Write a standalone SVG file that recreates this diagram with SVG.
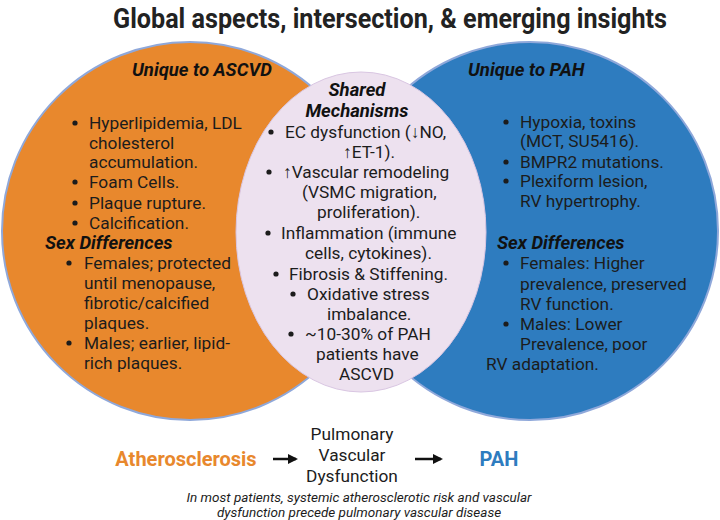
<svg xmlns="http://www.w3.org/2000/svg" width="720" height="520" viewBox="0 0 720 520">
<defs>
<style>
.t{font-family:Roboto,"Liberation Sans",sans-serif;font-size:17.3px;fill:#1c1c1c}
.h{font-family:Roboto,"Liberation Sans",sans-serif;font-size:18.5px;font-weight:bold;font-style:italic;fill:#111}
.title{font-family:Roboto,"Liberation Sans",sans-serif;font-size:27px;font-weight:bold;fill:#222}
.note{font-family:Roboto,"Liberation Sans",sans-serif;font-size:13.5px;font-style:italic;fill:#1c1c1c}
.big{font-family:Roboto,"Liberation Sans",sans-serif;font-size:20px;font-weight:bold}
.b{fill:#1c1c1c}
.circ{stroke:#8fa8da;stroke-width:2}
.arrow{stroke:#111;stroke-width:2.5;fill:none}
</style>
<marker id="ah" viewBox="0 0 10 10" refX="8" refY="5" markerWidth="4" markerHeight="4" orient="auto">
<path d="M0,0 L10,5 L0,10 z" fill="#111"/>
</marker>
</defs>
<rect width="720" height="520" fill="#fff"/>
<text class="title" x="390" y="28" text-anchor="middle" textLength="554" lengthAdjust="spacingAndGlyphs">Global aspects, intersection, &amp; emerging  insights</text>

<g id="ascvd">
<ellipse class="circ" cx="190" cy="231" rx="188" ry="189" fill="#e8882d"/>
<text class="h" x="132" y="76">Unique to ASCVD</text>
<circle class="b" cx="75" cy="123" r="2.6"/><text class="t" x="89" y="129">Hyperlipidemia, LDL</text>
<text class="t" x="89" y="149">cholesterol</text>
<text class="t" x="89" y="168">accumulation.</text>
<circle class="b" cx="75" cy="182" r="2.6"/><text class="t" x="89" y="188">Foam Cells.</text>
<circle class="b" cx="75" cy="203" r="2.6"/><text class="t" x="89" y="209">Plaque rupture.</text>
<circle class="b" cx="75" cy="223" r="2.6"/><text class="t" x="89" y="229">Calcification.</text>
<text class="h" x="45" y="249">Sex Differences</text>
<circle class="b" cx="69" cy="263" r="2.6"/><text class="t" x="84" y="269">Females; protected</text>
<text class="t" x="84" y="289">until menopause,</text>
<text class="t" x="84" y="309">fibrotic/calcified</text>
<text class="t" x="84" y="329">plaques.</text>
<circle class="b" cx="69" cy="343" r="2.6"/><text class="t" x="84" y="349">Males; earlier, lipid-</text>
<text class="t" x="84" y="369">rich plaques.</text>
</g>

<g id="pah">
<ellipse class="circ" cx="530" cy="231" rx="188" ry="189" fill="#2e7cbf"/>
<text class="h" x="468" y="76">Unique to PAH</text>
<circle class="b" cx="506" cy="122" r="2.6"/><text class="t" x="520" y="128">Hypoxia, toxins</text>
<text class="t" x="520" y="147">(MCT, SU5416).</text>
<circle class="b" cx="506" cy="162" r="2.6"/><text class="t" x="520" y="168">BMPR2 mutations.</text>
<circle class="b" cx="506" cy="181" r="2.6"/><text class="t" x="520" y="187">Plexiform lesion,</text>
<text class="t" x="520" y="207">RV hypertrophy.</text>
<text class="h" x="497" y="249">Sex Differences</text>
<circle class="b" cx="506" cy="263" r="2.6"/><text class="t" x="520" y="269">Females: Higher</text>
<text class="t" x="520" y="290">prevalence, preserved</text>
<text class="t" x="520" y="310">RV function.</text>
<circle class="b" cx="506" cy="324" r="2.6"/><text class="t" x="520" y="330">Males: Lower</text>
<text class="t" x="520" y="350">Prevalence, poor</text>
<text class="t" x="486" y="370">RV adaptation.</text>
</g>

<g id="shared">
<ellipse cx="361" cy="232" rx="125" ry="160" fill="#ede1ef" stroke="#d9c6e2" stroke-width="1"/>
<text class="h" x="357" y="96" text-anchor="middle">Shared</text>
<text class="h" x="357" y="117" text-anchor="middle">Mechanisms</text>
<circle class="b" cx="271" cy="132" r="2.6"/><text class="t" x="285" y="138">EC dysfunction (↓NO,</text>
<text class="t" x="343" y="158">↑ET-1).</text>
<circle class="b" cx="269" cy="172" r="2.6"/><text class="t" x="283" y="178">↑Vascular remodeling</text>
<text class="t" x="302" y="198">(VSMC migration,</text>
<text class="t" x="317" y="218">proliferation).</text>
<circle class="b" cx="268" cy="233" r="2.6"/><text class="t" x="281" y="239">Inflammation (immune</text>
<text class="t" x="305" y="259">cells, cytokines).</text>
<circle class="b" cx="276" cy="274" r="2.6"/><text class="t" x="289" y="280">Fibrosis &amp; Stiffening.</text>
<circle class="b" cx="293" cy="294" r="2.6"/><text class="t" x="307" y="300">Oxidative stress</text>
<text class="t" x="327" y="320">imbalance.</text>
<circle class="b" cx="291" cy="334" r="2.6"/><text class="t" x="305" y="340">~10-30% of PAH</text>
<text class="t" x="316" y="360">patients have</text>
<text class="t" x="339" y="380">ASCVD</text>
</g>

<g id="flow-atherosclerosis">
<text class="big" x="186" y="466" text-anchor="middle" fill="#e8882d">Atherosclerosis</text>
</g>
<g id="flow-pvd">
<text class="t" x="352" y="440" text-anchor="middle">Pulmonary</text>
<text class="t" x="352" y="461" text-anchor="middle">Vascular</text>
<text class="t" x="352" y="482" text-anchor="middle">Dysfunction</text>
</g>
<g id="flow-pah">
<text class="big" x="499" y="466" text-anchor="middle" fill="#2e7cbf">PAH</text>
</g>

<g id="connectors">
<line class="arrow" x1="273" y1="459" x2="296" y2="459" marker-end="url(#ah)"/>
<line class="arrow" x1="415" y1="459" x2="441" y2="459" marker-end="url(#ah)"/>
</g>

<g id="caption">
<text class="note" x="359" y="502" text-anchor="middle">In most patients, systemic atherosclerotic risk and vascular</text>
<text class="note" x="359" y="517" text-anchor="middle">dysfunction precede pulmonary vascular disease</text>
</g>
</svg>
